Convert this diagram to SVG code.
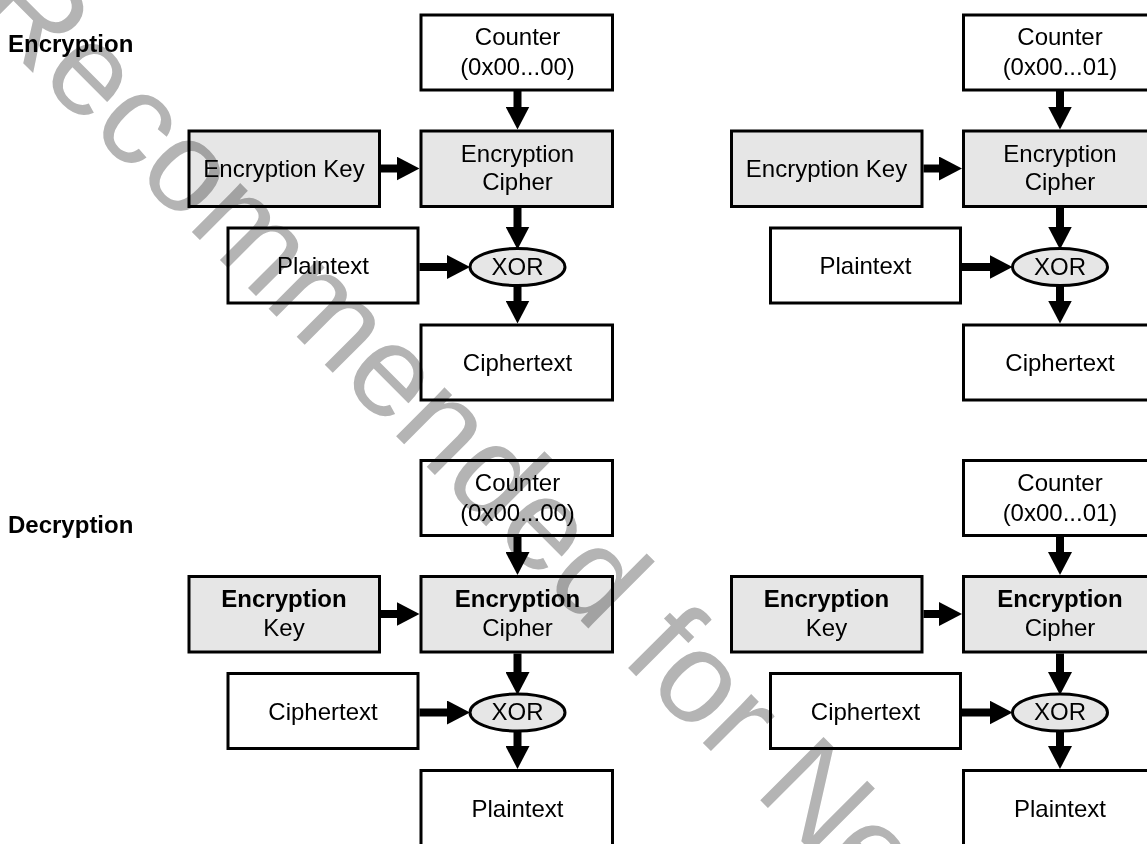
<svg xmlns="http://www.w3.org/2000/svg" width="1147" height="844" viewBox="0 0 1147 844">
<style>
  text { font-family: "Liberation Sans", Arial, sans-serif; font-size: 24px; fill: #000; }
  .c { text-anchor: middle; }
  .b { font-weight: bold; }
  .box { fill: #fff; stroke: #000; stroke-width: 3; }
  .gbox { fill: #e6e6e6; stroke: #000; stroke-width: 3; }
  .xor { fill: #e6e6e6; stroke: #000; stroke-width: 3; }
  .arr { stroke: #000; stroke-width: 8; fill: none; marker-end: url(#ah); }
  .wm { font-size: 130px; fill: #b4b4b4; mix-blend-mode: multiply; }
</style>
<defs>
  <marker id="ah" markerUnits="userSpaceOnUse" markerWidth="23" markerHeight="24" refX="11" refY="12" orient="auto" viewBox="0 0 23 24">
    <path d="M0,0 L23,12 L0,24 Z" fill="#000"/>
  </marker>
</defs>
<rect width="1147" height="844" fill="#fff"/>

<g id="titles">
  <text class="b" x="8" y="52">Encryption</text>
  <text class="b" x="8" y="533">Decryption</text>
</g>

<!-- Encryption, block 0 -->
<g id="enc0-counter"><rect class="box" x="421" y="15" width="191.5" height="75"/><text class="c" x="517.5" y="45">Counter</text><text class="c" x="517.5" y="75">(0x00...00)</text></g>
<g id="enc0-key"><rect class="gbox" x="189" y="131" width="190.5" height="75.5"/><text class="c" x="284" y="177">Encryption Key</text></g>
<g id="enc0-cipher"><rect class="gbox" x="421" y="131" width="191.5" height="75.5"/><text class="c" x="517.5" y="161.5">Encryption</text><text class="c" x="517.5" y="190">Cipher</text></g>
<g id="enc0-plaintext"><rect class="box" x="228" y="228" width="190" height="75"/><text class="c" x="323" y="274">Plaintext</text></g>
<g id="enc0-xor"><ellipse class="xor" cx="517.5" cy="267" rx="47.5" ry="18.5"/><text class="c" x="517.5" y="274.5">XOR</text></g>
<g id="enc0-ciphertext"><rect class="box" x="421" y="325" width="191.5" height="75"/><text class="c" x="517.5" y="371">Ciphertext</text></g>

<!-- Encryption, block 1 -->
<g id="enc1-counter" transform="translate(542.5,0)"><rect class="box" x="421" y="15" width="191.5" height="75"/><text class="c" x="517.5" y="45">Counter</text><text class="c" x="517.5" y="75">(0x00...01)</text></g>
<g id="enc1-key" transform="translate(542.5,0)"><rect class="gbox" x="189" y="131" width="190.5" height="75.5"/><text class="c" x="284" y="177">Encryption Key</text></g>
<g id="enc1-cipher" transform="translate(542.5,0)"><rect class="gbox" x="421" y="131" width="191.5" height="75.5"/><text class="c" x="517.5" y="161.5">Encryption</text><text class="c" x="517.5" y="190">Cipher</text></g>
<g id="enc1-plaintext" transform="translate(542.5,0)"><rect class="box" x="228" y="228" width="190" height="75"/><text class="c" x="323" y="274">Plaintext</text></g>
<g id="enc1-xor" transform="translate(542.5,0)"><ellipse class="xor" cx="517.5" cy="267" rx="47.5" ry="18.5"/><text class="c" x="517.5" y="274.5">XOR</text></g>
<g id="enc1-ciphertext" transform="translate(542.5,0)"><rect class="box" x="421" y="325" width="191.5" height="75"/><text class="c" x="517.5" y="371">Ciphertext</text></g>

<!-- Decryption, block 0 -->
<g id="dec0-counter" transform="translate(0,445.5)"><rect class="box" x="421" y="15" width="191.5" height="75"/><text class="c" x="517.5" y="45">Counter</text><text class="c" x="517.5" y="75">(0x00...00)</text></g>
<g id="dec0-key" transform="translate(0,445.5)"><rect class="gbox" x="189" y="131" width="190.5" height="75.5"/><text class="c b" x="284" y="161.5">Encryption</text><text class="c" x="284" y="190">Key</text></g>
<g id="dec0-cipher" transform="translate(0,445.5)"><rect class="gbox" x="421" y="131" width="191.5" height="75.5"/><text class="c b" x="517.5" y="161.5">Encryption</text><text class="c" x="517.5" y="190">Cipher</text></g>
<g id="dec0-ciphertext" transform="translate(0,445.5)"><rect class="box" x="228" y="228" width="190" height="75"/><text class="c" x="323" y="274">Ciphertext</text></g>
<g id="dec0-xor" transform="translate(0,445.5)"><ellipse class="xor" cx="517.5" cy="267" rx="47.5" ry="18.5"/><text class="c" x="517.5" y="274.5">XOR</text></g>
<g id="dec0-plaintext" transform="translate(0,445.5)"><rect class="box" x="421" y="325" width="191.5" height="75"/><text class="c" x="517.5" y="371">Plaintext</text></g>

<!-- Decryption, block 1 -->
<g id="dec1-counter" transform="translate(542.5,445.5)"><rect class="box" x="421" y="15" width="191.5" height="75"/><text class="c" x="517.5" y="45">Counter</text><text class="c" x="517.5" y="75">(0x00...01)</text></g>
<g id="dec1-key" transform="translate(542.5,445.5)"><rect class="gbox" x="189" y="131" width="190.5" height="75.5"/><text class="c b" x="284" y="161.5">Encryption</text><text class="c" x="284" y="190">Key</text></g>
<g id="dec1-cipher" transform="translate(542.5,445.5)"><rect class="gbox" x="421" y="131" width="191.5" height="75.5"/><text class="c b" x="517.5" y="161.5">Encryption</text><text class="c" x="517.5" y="190">Cipher</text></g>
<g id="dec1-ciphertext" transform="translate(542.5,445.5)"><rect class="box" x="228" y="228" width="190" height="75"/><text class="c" x="323" y="274">Ciphertext</text></g>
<g id="dec1-xor" transform="translate(542.5,445.5)"><ellipse class="xor" cx="517.5" cy="267" rx="47.5" ry="18.5"/><text class="c" x="517.5" y="274.5">XOR</text></g>
<g id="dec1-plaintext" transform="translate(542.5,445.5)"><rect class="box" x="421" y="325" width="191.5" height="75"/><text class="c" x="517.5" y="371">Plaintext</text></g>

<g id="connectors">
  <g id="conn-enc0">
    <line class="arr" x1="517.5" y1="91" x2="517.5" y2="117.5"/>
    <line class="arr" x1="381" y1="168.5" x2="407.5" y2="168.5"/>
    <line class="arr" x1="419.5" y1="267" x2="458" y2="267"/>
    <line class="arr" x1="517.5" y1="208" x2="517.5" y2="237.5"/>
    <line class="arr" x1="517.5" y1="285" x2="517.5" y2="311.5"/>
  </g>
  <g id="conn-enc1" transform="translate(542.5,0)">
    <line class="arr" x1="517.5" y1="91" x2="517.5" y2="117.5"/>
    <line class="arr" x1="381" y1="168.5" x2="407.5" y2="168.5"/>
    <line class="arr" x1="419.5" y1="267" x2="458" y2="267"/>
    <line class="arr" x1="517.5" y1="208" x2="517.5" y2="237.5"/>
    <line class="arr" x1="517.5" y1="285" x2="517.5" y2="311.5"/>
  </g>
  <g id="conn-dec0" transform="translate(0,445.5)">
    <line class="arr" x1="517.5" y1="91" x2="517.5" y2="117.5"/>
    <line class="arr" x1="381" y1="168.5" x2="407.5" y2="168.5"/>
    <line class="arr" x1="419.5" y1="267" x2="458" y2="267"/>
    <line class="arr" x1="517.5" y1="208" x2="517.5" y2="237.5"/>
    <line class="arr" x1="517.5" y1="285" x2="517.5" y2="311.5"/>
  </g>
  <g id="conn-dec1" transform="translate(542.5,445.5)">
    <line class="arr" x1="517.5" y1="91" x2="517.5" y2="117.5"/>
    <line class="arr" x1="381" y1="168.5" x2="407.5" y2="168.5"/>
    <line class="arr" x1="419.5" y1="267" x2="458" y2="267"/>
    <line class="arr" x1="517.5" y1="208" x2="517.5" y2="237.5"/>
    <line class="arr" x1="517.5" y1="285" x2="517.5" y2="311.5"/>
  </g>
</g>

<text id="watermark" class="wm" transform="translate(-29,11) rotate(45)">Recommended for Ne</text>
</svg>
